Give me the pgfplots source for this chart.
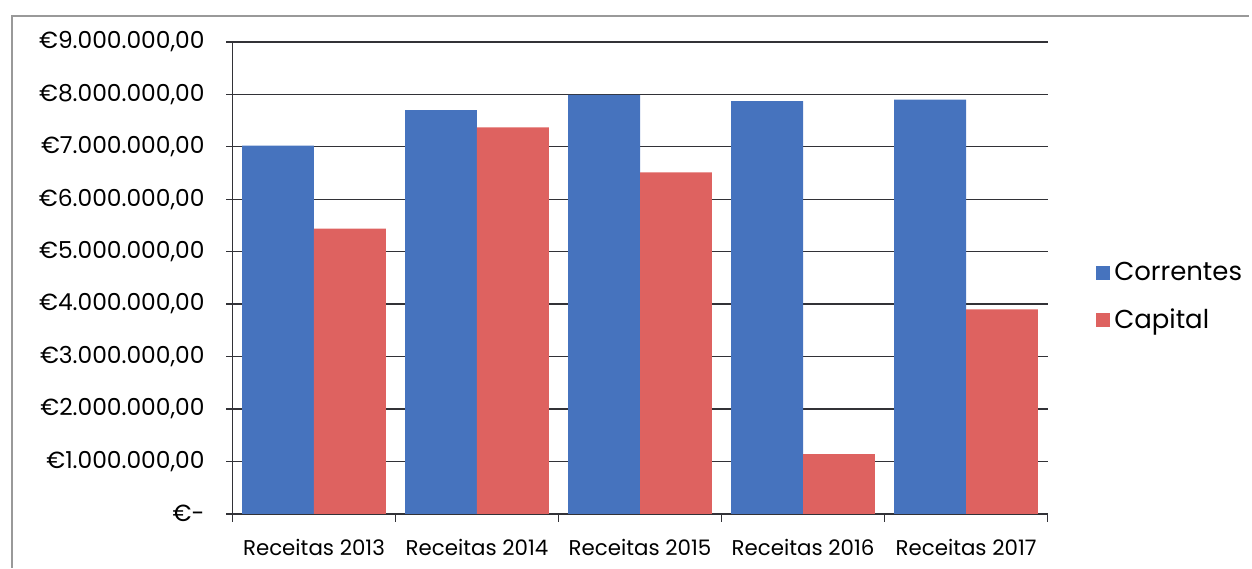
\documentclass[border=0pt]{standalone}
\usepackage{pgfplots}
\pgfplotsset{compat=1.18}
\usepackage{fontspec}
\setmainfont{Poppins}

\definecolor{correntes}{RGB}{70,115,190}
\definecolor{capital}{RGB}{222,98,96}
\definecolor{gridc}{RGB}{50,50,55}

\begin{document}
\begin{tikzpicture}
% page size and outer frame (1px = 0.5pt)
\path (0,0) rectangle (626pt,284.5pt);
\draw[gray!80, line width=0.8pt] (6pt,0) -- (6pt,276.5pt) -- (626pt,276.5pt);

\begin{axis}[
    at={(116.5pt,27pt)}, anchor=south west,
    scale only axis,
    width=408.5pt, height=236.5pt,
    ybar=0pt,
    bar width=36pt,
    xmin=-0.5, xmax=4.5,
    ymin=0, ymax=9000000,
    xtick={0,1,2,3,4},
    xticklabels={Receitas 2013, Receitas 2014, Receitas 2015, Receitas 2016, Receitas 2017},
    minor xtick={-0.5,0.5,1.5,2.5,3.5,4.5},
    ytick={0,1000000,...,9000000},
    yticklabels={{€-}, {€1.000.000,00}, {€2.000.000,00}, {€3.000.000,00}, {€4.000.000,00}, {€5.000.000,00}, {€6.000.000,00}, {€7.000.000,00}, {€8.000.000,00}, {€9.000.000,00}},
    scaled y ticks=false,
    axis x line=bottom, axis y line=left,
    axis line style={-, gridc, line width=0.7pt},
    tick align=outside,
    major tick length=3pt, minor tick length=4pt,
    major x tick style={draw=none},
    minor x tick style={gridc, line width=0.7pt},
    y tick style={gridc, line width=0.7pt},
    ymajorgrids=true,
    grid style={gridc, line width=0.7pt},
    yticklabel style={font=\fontsize{11.7}{13}\selectfont, anchor=east, xshift=-7.5pt},
    xticklabel style={font=\fontsize{10.7}{12}\selectfont, yshift=-6pt},
    legend cell align=left,
    legend style={at={(1.052,0.46)}, anchor=west, draw=none, fill=none,
        font=\fontsize{13}{15}\selectfont, row sep=8.5pt},
    legend image code/.code={\fill[#1] (0pt,-3.5pt) rectangle (7pt,3.5pt);},
]
\addplot[fill=correntes, draw=none] coordinates {(0,7020000) (1,7700000) (2,7990000) (3,7870000) (4,7900000)};
\addplot[fill=capital, draw=none] coordinates {(0,5440000) (1,7370000) (2,6510000) (3,1140000) (4,3900000)};
\legend{Correntes, Capital}
\end{axis}
\end{tikzpicture}
\end{document}
